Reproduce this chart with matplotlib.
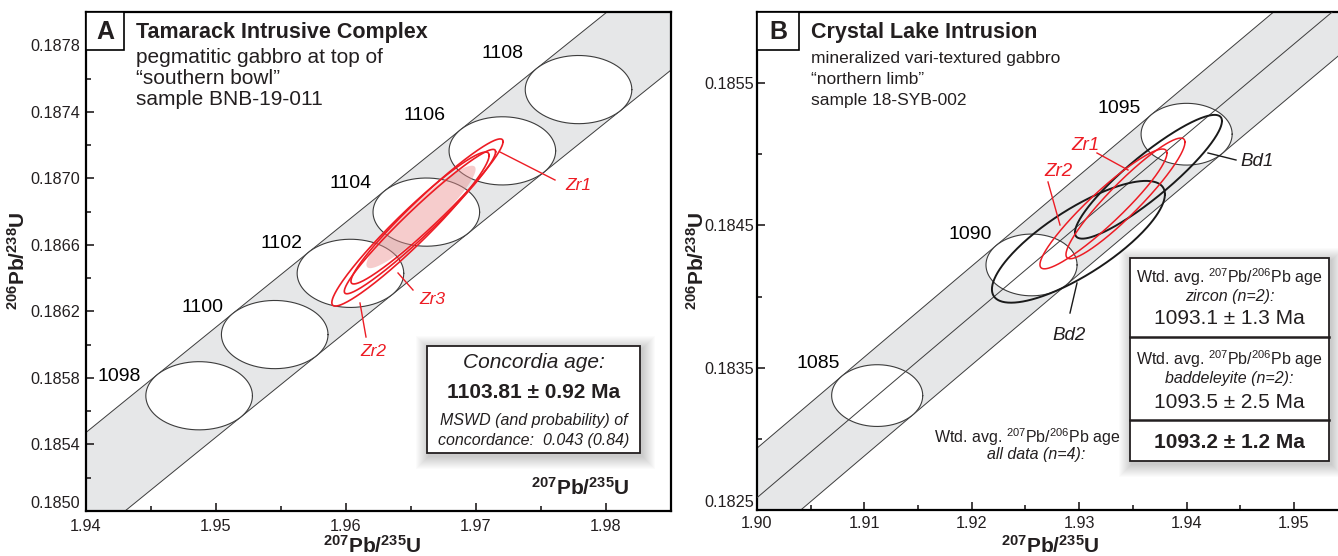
import numpy as np
import matplotlib
matplotlib.use('Agg')
import matplotlib.pyplot as plt
from matplotlib.patches import Rectangle
from matplotlib.ticker import FixedLocator, AutoMinorLocator, FormatStrFormatter

plt.rcParams['font.family'] = ['Liberation Sans', 'DejaVu Sans']
plt.rcParams['mathtext.fontset'] = 'custom'
plt.rcParams['mathtext.rm'] = 'Liberation Sans'
plt.rcParams['mathtext.it'] = 'Liberation Sans:italic'
plt.rcParams['mathtext.bf'] = 'Liberation Sans:bold'

# ---------------- data ----------------
LAMBDA_238 = 1.55125e-10   # 1/yr
LAMBDA_235 = 9.8485e-10    # 1/yr

# Panel A : Tamarack Intrusive Complex
a_marker_ages = [1098, 1100, 1102, 1104, 1106, 1108]
a_marker_sx = 0.0041
a_marker_sy = 0.000205
a_names = ['Zr1', 'Zr2', 'Zr3']
a_x = [1.96623, 1.96496, 1.96569]
a_sx = [0.00585, 0.00605, 0.00582]
a_y = [0.186801, 0.186695, 0.186740]
a_sy = [0.000436, 0.000463, 0.000434]
a_rho = [0.962, 0.955, 0.966]
a_conc_x, a_conc_y, a_conc_sx, a_conc_sy, a_conc_rho = 1.96577, 0.186768, 0.00420, 0.000308, 0.93
a_xticks = [1.94, 1.95, 1.96, 1.97, 1.98]
a_yticks = [0.1850, 0.1854, 0.1858, 0.1862, 0.1866, 0.1870, 0.1874, 0.1878]

# Panel B : Crystal Lake Intrusion
b_marker_ages = [1085, 1090, 1095]
b_marker_sx = 0.00424
b_marker_sy = 0.000217
b_names = ['Zr1', 'Zr2', 'Bd1', 'Bd2']
b_x = [1.93431, 1.93226, 1.93645, 1.92993]
b_sx = [0.00554, 0.005913, 0.006844, 0.008054]
b_y = [0.184690, 0.184616, 0.184842, 0.184385]
b_sy = [0.000424, 0.000421, 0.000435, 0.000428]
b_rho = [0.93, 0.93, 0.90, 0.78]
b_xticks = [1.90, 1.91, 1.92, 1.93, 1.94, 1.95]
b_yticks = [0.1825, 0.1835, 0.1845, 0.1855]

# ---------------- style ----------------
BAND = '#e6e7e8'
EDGE = '#3c3c3c'
RED = '#ed1c24'
INK = '#231f20'
W, H = 1338, 556


def concordia(t_ma):
    t = np.asarray(t_ma, dtype=float) * 1e6
    return np.expm1(LAMBDA_235 * t), np.expm1(LAMBDA_238 * t)


def ellipse_xy(cx, cy, sx, sy, rho, n=300):
    t = np.linspace(0, 2 * np.pi, n)
    return cx + sx * np.cos(t), cy + sy * (rho * np.cos(t) + np.sqrt(1 - rho ** 2) * np.sin(t))


def draw_concordia(ax, xlim, ylim, ages, msx, msy, centre_line):
    t0 = np.log1p(xlim[0] - 0.03) / LAMBDA_235 / 1e6
    t1 = np.log1p(xlim[1] + 0.03) / LAMBDA_235 / 1e6
    t = np.linspace(t0, t1, 500)
    cx, cy = concordia(t)
    tt = t * 1e6
    slope = (LAMBDA_238 * np.exp(LAMBDA_238 * tt)) / (LAMBDA_235 * np.exp(LAMBDA_235 * tt))
    off = np.sqrt((slope * msx) ** 2 + msy ** 2)
    ax.fill_between(cx, cy - off, cy + off, color=BAND, lw=0, zorder=1)
    ax.plot(cx, cy + off, color=EDGE, lw=0.7, zorder=1.5)
    ax.plot(cx, cy - off, color=EDGE, lw=0.7, zorder=1.5)
    for age in ages:
        mx, my = concordia(age)
        ex, ey = ellipse_xy(mx, my, msx, msy, 0.0)
        ax.fill(ex, ey, color='white', lw=0, zorder=2)
    if centre_line:
        ax.plot(cx, cy, color=EDGE, lw=0.7, zorder=3)
    for age in ages:
        mx, my = concordia(age)
        ex, ey = ellipse_xy(mx, my, msx, msy, 0.0)
        ax.plot(ex, ey, color=EDGE, lw=0.8, zorder=3)
    ax.set_xlim(xlim)
    ax.set_ylim(ylim)


def style_axes(ax, xticks, yticks, xfmt, yfmt, xpad, ypad):
    ax.xaxis.set_major_locator(FixedLocator(xticks))
    ax.yaxis.set_major_locator(FixedLocator(yticks))
    ax.xaxis.set_minor_locator(AutoMinorLocator(2))
    ax.yaxis.set_minor_locator(AutoMinorLocator(2))
    ax.xaxis.set_major_formatter(FormatStrFormatter(xfmt))
    ax.yaxis.set_major_formatter(FormatStrFormatter(yfmt))
    ax.tick_params(which='both', direction='in', width=1.2, colors=INK, labelsize=11.7)
    ax.tick_params(which='major', length=5.5)
    ax.tick_params(which='minor', length=3.5)
    ax.tick_params(axis='x', pad=xpad)
    ax.tick_params(axis='y', pad=ypad)
    for s in ax.spines.values():
        s.set_linewidth(1.6)
        s.set_color('black')


def frac_rect(l, t, r, b):
    return [l / W, 1 - b / H, (r - l) / W, (b - t) / H]


fig = plt.figure(figsize=(W / 100, H / 100), dpi=100)
axA = fig.add_axes(frac_rect(86, 12, 671, 511))
axB = fig.add_axes(frac_rect(757, 12, 1338, 510))

# ---------- panel A ----------
draw_concordia(axA, (1.94, 1.985), (0.1850, 0.1880), a_marker_ages, a_marker_sx, a_marker_sy, False)
ex, ey = ellipse_xy(a_conc_x, a_conc_y, a_conc_sx, a_conc_sy, a_conc_rho)
axA.fill(ex, ey, color='#ec8f8f', alpha=0.45, lw=0, zorder=4)
for x, sx, y, sy, r in zip(a_x, a_sx, a_y, a_sy, a_rho):
    ex, ey = ellipse_xy(x, y, sx, sy, r)
    axA.plot(ex, ey, color=RED, lw=1.2, zorder=5)
a_label_offsets = [(-80, 19), (-72, 27), (-69, 30), (-76, 29), (-78, 35), (-76, 36)]
for age, (dx, dy) in zip(a_marker_ages, a_label_offsets):
    axA.annotate(str(age), xy=concordia(age), xytext=(dx * 0.72, dy * 0.72), textcoords='offset points',
                 ha='center', va='center', fontsize=14, color='black', zorder=6)
style_axes(axA, a_xticks, a_yticks, '%.2f', '%.4f', 6, 4)

# ---------- panel B ----------
draw_concordia(axB, (1.90, 1.9541), (0.1825, 0.1860), b_marker_ages, b_marker_sx, b_marker_sy, True)
for name, x, sx, y, sy, r in zip(b_names, b_x, b_sx, b_y, b_sy, b_rho):
    ex, ey = ellipse_xy(x, y, sx, sy, r)
    if name.startswith('Zr'):
        axB.plot(ex, ey, color=RED, lw=1.1, zorder=5)
    else:
        axB.plot(ex, ey, color='#1a1a1a', lw=1.4, zorder=4)
b_label_offsets = [(-59, 32), (-61, 30), (-67, 26)]
for age, (dx, dy) in zip(b_marker_ages, b_label_offsets):
    axB.annotate(str(age), xy=concordia(age), xytext=(dx * 0.72, dy * 0.72), textcoords='offset points',
                 ha='center', va='center', fontsize=14, color='black', zorder=6)
style_axes(axB, b_xticks, b_yticks, '%.2f', '%.4f', 4, 2)
axB.spines['right'].set_visible(False)

# lift the lowest y tick label a little so it clears the x tick labels
fig.canvas.draw()
for ax in (axA, axB):
    ax.get_yticklabels()[0].set_va('bottom')

# ---------- overlay (pixel coordinates) for annotations ----------
ov = fig.add_axes([0, 0, 1, 1], zorder=10)
ov.set_xlim(0, W)
ov.set_ylim(H, 0)
ov.axis('off')


def shadow_box(l, t, r, b, spread=13):
    for k in range(spread, 0, -1):
        ov.add_patch(Rectangle((l - k + 2, t - k + 3), (r - l) + 2 * k, (b - t) + 2 * k,
                               facecolor='black', alpha=0.017, lw=0))
    ov.add_patch(Rectangle((l, t), r - l, b - t, facecolor='white', edgecolor=INK, lw=1.3))


# letter boxes and titles
ov.add_patch(Rectangle((86, 12), 38, 38, facecolor='white', edgecolor='black', lw=1.2))
ov.text(105, 32, 'A', fontsize=18, fontweight='bold', ha='center', va='center', color=INK)
ov.text(136, 38, 'Tamarack Intrusive Complex', fontsize=15.5, fontweight='bold', color=INK, va='baseline')
for i, line in enumerate(['pegmatitic gabbro at top of', '\u201csouthern bowl\u201d', 'sample BNB-19-011']):
    ov.text(136, 63 + 21 * i, line, fontsize=15, color=INK, va='baseline')

ov.add_patch(Rectangle((757, 12), 42, 38, facecolor='white', edgecolor='black', lw=1.2))
ov.text(778, 32, 'B', fontsize=18, fontweight='bold', ha='center', va='center', color=INK)
ov.text(811, 38, 'Crystal Lake Intrusion', fontsize=15.5, fontweight='bold', color=INK, va='baseline')
for i, line in enumerate(['mineralized vari-textured gabbro', '\u201cnorthern limb\u201d', 'sample 18-SYB-002']):
    ov.text(811, 63 + 21 * i, line, fontsize=12.5, color=INK, va='baseline')

# axis labels
lab_207 = r'$\mathbf{^{207}Pb/^{235}U}$'
lab_206 = r'$\mathbf{^{206}Pb/^{238}U}$'
ov.text(372, 546, lab_207, fontsize=15, ha='center', va='center', color=INK)
ov.text(580, 488, lab_207, fontsize=15, ha='center', va='center', color=INK)
ov.text(1050, 546, lab_207, fontsize=15, ha='center', va='center', color=INK)
ov.text(18, 261, lab_206, fontsize=15, ha='center', va='center', rotation=90, color=INK)
ov.text(697, 261, lab_206, fontsize=15, ha='center', va='center', rotation=90, color=INK)

# panel A sample labels with leader lines
ov.plot([500, 555], [152, 180], color=RED, lw=1.0)
ov.text(578, 185, 'Zr1', fontsize=12.5, style='italic', color=RED, ha='center', va='center')
ov.plot([398, 413], [273, 290], color=RED, lw=1.0)
ov.text(432, 300, 'Zr3', fontsize=12.5, style='italic', color=RED, ha='center', va='center')
ov.plot([360, 366], [303, 337], color=RED, lw=1.0)
ov.text(373, 352, 'Zr2', fontsize=12.5, style='italic', color=RED, ha='center', va='center')

# panel A concordia box
shadow_box(427, 346, 640, 453)
ov.text(533.5, 363, 'Concordia age:', fontsize=15, style='italic', ha='center', va='center', color=INK)
ov.text(533.5, 393, '1103.81 \u00b1 0.92 Ma', fontsize=15, fontweight='bold', ha='center', va='center', color=INK)
ov.text(533.5, 421, 'MSWD (and probability) of', fontsize=11.5, style='italic', ha='center', va='center', color=INK)
ov.text(533.5, 440, 'concordance:  0.043 (0.84)', fontsize=11.5, style='italic', ha='center', va='center', color=INK)

# panel B sample labels with leader lines
ov.plot([1097, 1128], [153, 170], color=RED, lw=1.0)
ov.text(1085, 145, 'Zr1', fontsize=13.5, style='italic', color=RED, ha='center', va='center')
ov.plot([1048, 1060], [182, 225], color=RED, lw=1.0)
ov.text(1058, 172, 'Zr2', fontsize=13.5, style='italic', color=RED, ha='center', va='center')
ov.plot([1208, 1236], [153, 160], color='#1a1a1a', lw=1.0)
ov.text(1257, 162, 'Bd1', fontsize=13.5, style='italic', color=INK, ha='center', va='center')
ov.plot([1070, 1077], [313, 283], color='#1a1a1a', lw=1.0)
ov.text(1069, 336, 'Bd2', fontsize=13.5, style='italic', color=INK, ha='center', va='center')

# panel B age boxes
wtd = r'Wtd. avg. $^{\mathit{207}}$Pb/$^{\mathit{206}}$Pb age'
shadow_box(1130, 258, 1329, 461)
ov.plot([1130, 1329], [337, 337], color=INK, lw=1.8)
ov.plot([1130, 1329], [420, 420], color=INK, lw=1.8)
cx = 1229.5
ov.text(cx, 277, wtd, fontsize=11.5, ha='center', va='center', color=INK)
ov.text(cx, 296, 'zircon (n=2):', fontsize=11.5, style='italic', ha='center', va='center', color=INK)
ov.text(cx, 319, '1093.1 \u00b1 1.3 Ma', fontsize=15, ha='center', va='center', color=INK)
ov.text(cx, 359, wtd, fontsize=11.5, ha='center', va='center', color=INK)
ov.text(cx, 378, 'baddeleyite (n=2):', fontsize=11.5, style='italic', ha='center', va='center', color=INK)
ov.text(cx, 403, '1093.5 \u00b1 2.5 Ma', fontsize=15, ha='center', va='center', color=INK)
ov.text(cx, 443, '1093.2 \u00b1 1.2 Ma', fontsize=15, fontweight='bold', ha='center', va='center', color=INK)
ov.text(1027, 437, wtd, fontsize=11.5, ha='center', va='center', color=INK)
ov.text(1036, 455, 'all data (n=4):', fontsize=11.5, style='italic', ha='center', va='center', color=INK)

fig.savefig('out.png', dpi=100)
